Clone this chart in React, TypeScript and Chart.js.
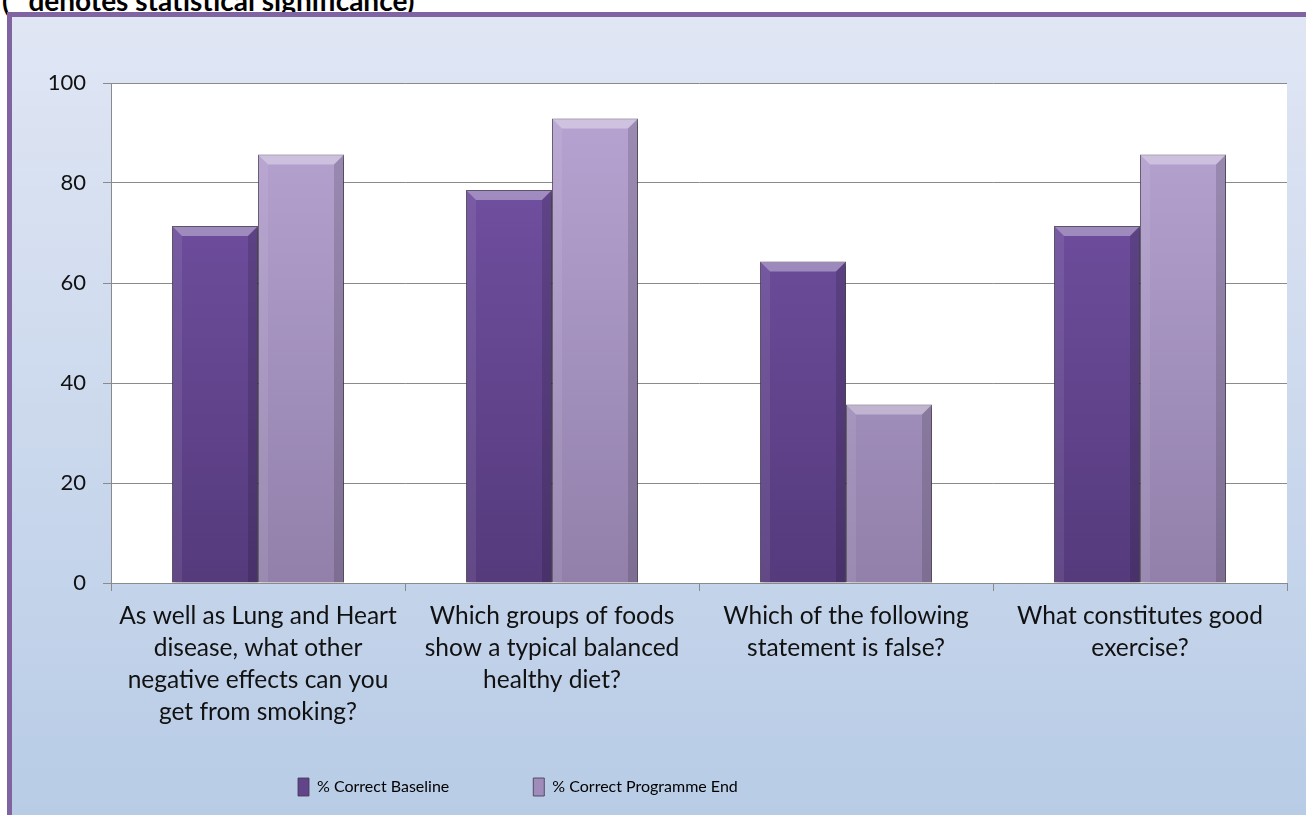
import React, { useEffect, useRef } from "react";
import { Chart, registerables } from "chart.js";

Chart.register(...registerables);

const titleText = "(* denotes statistical significance)";
const categories: string[][] = [
  ["As well as Lung and Heart", "disease, what other", "negative effects can you", "get from smoking?"],
  ["Which groups of foods", "show a typical balanced", "healthy diet?"],
  ["Which of the following", "statement is false?"],
  ["What constitutes good", "exercise?"],
];
const seriesLabels = ["% Correct Baseline", "% Correct Programme End"];
const baselineValues = [71.4, 78.6, 64.3, 71.4];
const programmeEndValues = [85.7, 92.9, 35.7, 85.7];
const yMin = 0;
const yMax = 100;
const yStep = 20;

const FONT = "Lato, 'DejaVu Sans', sans-serif";
const GRID = "#8a8a8a";
const baseTop = "#7654a8";
const baseBottom = "#553a7c";
const endTop = "#b8a5d3";
const endBottom = "#9280ab";
const legendSolid = ["#62448a", "#a08cba"];

function vGrad(chart: any, top: string, bottom: string, fallback: string) {
  const ca = chart.chartArea;
  if (!ca) return fallback;
  const g = chart.ctx.createLinearGradient(0, ca.top, 0, ca.bottom);
  g.addColorStop(0, top);
  g.addColorStop(1, bottom);
  return g;
}

const whiteAreaPlugin = {
  id: "whiteArea",
  beforeDraw(chart: any) {
    const { ctx, chartArea } = chart;
    if (!chartArea) return;
    ctx.save();
    ctx.fillStyle = "#ffffff";
    ctx.fillRect(chartArea.left, chartArea.top, chartArea.right - chartArea.left, chartArea.bottom - chartArea.top);
    ctx.restore();
  },
};

const bevelPlugin = {
  id: "bevel",
  beforeDatasetsDraw(chart: any) {
    const ctx = chart.ctx;
    ctx.save();
    ctx.shadowColor = "rgba(0,0,0,0.35)";
    ctx.shadowBlur = 5;
    ctx.shadowOffsetX = 2;
    ctx.shadowOffsetY = 2;
  },
  afterDatasetsDraw(chart: any) {
    const ctx = chart.ctx;
    ctx.restore();
    ctx.save();
    chart.data.datasets.forEach((_: any, di: number) => {
      const meta = chart.getDatasetMeta(di);
      meta.data.forEach((el: any) => {
        const { x, y, base, width } = el.getProps(["x", "y", "base", "width"], true);
        const l = x - width / 2 + 1;
        const r = x + width / 2 - 1;
        const t = y + 1;
        const b = base - 0.5;
        const bv = Math.min(9, (b - t) / 2);
        ctx.beginPath();
        ctx.moveTo(l, t);
        ctx.lineTo(r, t);
        ctx.lineTo(r - bv, t + bv);
        ctx.lineTo(l + bv, t + bv);
        ctx.closePath();
        ctx.fillStyle = "rgba(255,255,255,0.35)";
        ctx.fill();
        ctx.beginPath();
        ctx.moveTo(l, t);
        ctx.lineTo(l + bv, t + bv);
        ctx.lineTo(l + bv, b);
        ctx.lineTo(l, b);
        ctx.closePath();
        ctx.fillStyle = "rgba(255,255,255,0.08)";
        ctx.fill();
        ctx.beginPath();
        ctx.moveTo(r, t);
        ctx.lineTo(r - bv, t + bv);
        ctx.lineTo(r - bv, b);
        ctx.lineTo(r, b);
        ctx.closePath();
        ctx.fillStyle = "rgba(0,0,0,0.14)";
        ctx.fill();
      });
    });
    ctx.restore();
  },
};

const legendPlacePlugin = {
  id: "legendPlace",
  afterLayout(chart: any) {
    const lg = chart.legend;
    if (!lg) return;
    const pad = lg.options.labels.padding;
    const fs = lg.options.labels.font.size;
    const itemH = Math.max(fs, lg.options.labels.boxHeight);
    const h = lg.height;
    lg.left = 286 - pad;
    lg.top = 770 - itemH / 2 - pad;
    lg.bottom = lg.top + h;
  },
};

export default function App() {
  const canvasRef = useRef<HTMLCanvasElement | null>(null);

  useEffect(() => {
    if (!canvasRef.current) return;
    const chart = new Chart(canvasRef.current, {
      type: "bar",
      data: {
        labels: categories,
        datasets: [
          {
            label: seriesLabels[0],
            data: baselineValues,
            backgroundColor: (c: any) => vGrad(c.chart, baseTop, baseBottom, legendSolid[0]),
            borderColor: "rgba(70,60,85,0.85)",
            borderWidth: 1,
            barPercentage: 1,
            categoryPercentage: 0.585,
          },
          {
            label: seriesLabels[1],
            data: programmeEndValues,
            backgroundColor: (c: any) => vGrad(c.chart, endTop, endBottom, legendSolid[1]),
            borderColor: "rgba(85,75,100,0.85)",
            borderWidth: 1,
            barPercentage: 1,
            categoryPercentage: 0.585,
          },
        ],
      },
      options: {
        responsive: false,
        animation: false,
        layout: { padding: { top: 66, right: 19, left: 0, bottom: -41 } },
        scales: {
          x: {
            grid: { offset: true, drawOnChartArea: false, drawTicks: true, tickLength: 8, color: GRID },
            border: { color: GRID },
            ticks: {
              font: { family: FONT, size: 24.5, lineHeight: 32 / 24.5 },
              color: "#111",
              padding: 9,
              maxRotation: 0,
              autoSkip: false,
            },
            afterFit: (s: any) => {
              s.height = 161;
            },
          },
          y: {
            min: yMin,
            max: yMax,
            ticks: { stepSize: yStep, font: { family: FONT, size: 22 }, color: "#111", padding: 17 },
            grid: { color: GRID, tickLength: 8 },
            border: { color: GRID },
            afterFit: (s: any) => {
              s.width = 99;
            },
          },
        },
        plugins: {
          title: { display: false },
          tooltip: { enabled: false },
          legend: {
            position: "bottom",
            align: "start",
            labels: {
              boxWidth: 11,
              boxHeight: 18,
              padding: 84,
              color: "#111",
              font: { family: FONT, size: 16 },
              generateLabels: () =>
                seriesLabels.map((t, i) => ({
                  text: t,
                  fillStyle: legendSolid[i],
                  strokeStyle: "rgba(70,60,85,0.85)",
                  lineWidth: 1,
                  hidden: false,
                  datasetIndex: i,
                })),
            },
          },
        },
      } as any,
      plugins: [whiteAreaPlugin, bevelPlugin, legendPlacePlugin],
    });
    return () => chart.destroy();
  }, []);

  return (
    <div style={{ position: "relative", width: 1306, height: 815, overflow: "hidden", background: "#fff" }}>
      <style>{"body{margin:0;overflow:hidden}"}</style>
      <div
        style={{
          position: "absolute",
          left: 2,
          top: -14,
          fontFamily: FONT,
          fontWeight: 700,
          fontSize: 28,
          lineHeight: "28px",
          whiteSpace: "nowrap",
          color: "#000",
        }}
      >
        {titleText}
      </div>
      <div
        style={{
          position: "absolute",
          left: 7,
          top: 12,
          width: 1299,
          height: 803,
          boxSizing: "border-box",
          borderLeft: "5px solid #8064a2",
          borderTop: "5px solid #8064a2",
          background: "linear-gradient(to bottom, #e0e6f4, #b8cce6)",
        }}
      >
        <canvas ref={canvasRef} width={1294} height={798} style={{ position: "absolute", left: 0, top: 0, width: 1294, height: 798 }} />
      </div>
    </div>
  );
}
